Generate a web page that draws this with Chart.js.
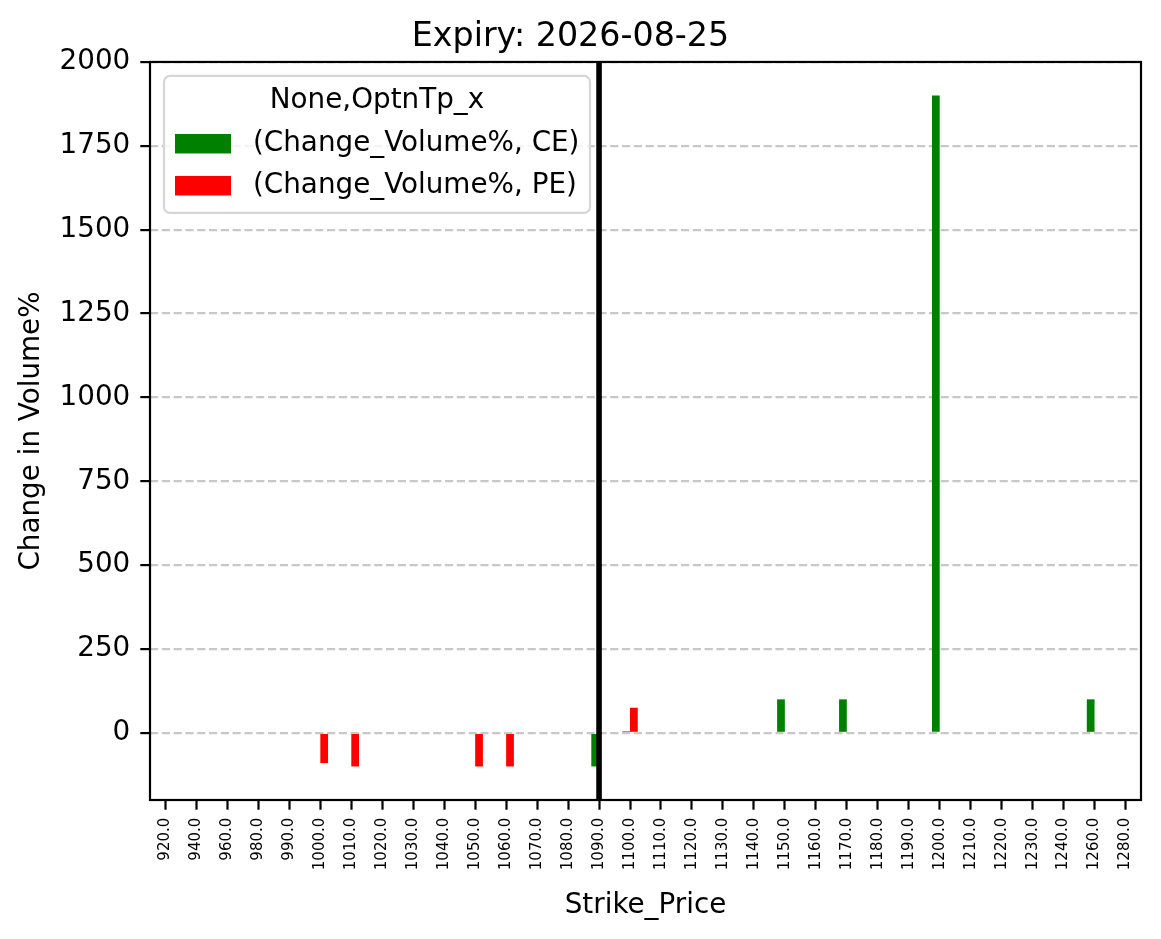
<!DOCTYPE html>
<html>
<head>
<meta charset="utf-8">
<script src="https://cdn.jsdelivr.net/npm/chart.js@4/dist/chart.umd.min.js"></script>
<style>
  body { margin: 0; background: #fff; }
  canvas { display: block; }
</style>
</head>
<body>
<canvas id="chart" width="1161" height="939"></canvas>
<script>
// strike prices shown on the x axis
const strikes = ['920.0', '940.0', '960.0', '980.0', '990.0', '1000.0', '1010.0', '1020.0',
    '1030.0', '1040.0', '1050.0', '1060.0', '1070.0', '1080.0', '1090.0', '1100.0',
    '1110.0', '1120.0', '1130.0', '1140.0', '1150.0', '1160.0', '1170.0', '1180.0',
    '1190.0', '1200.0', '1210.0', '1220.0', '1230.0', '1240.0', '1260.0', '1280.0'];

// change in volume %, null where there is no bar
const ceChange = [null, null, null, null, null, null, null, null,
    null, null, null, null, null, null, -100, 5,
    null, null, null, null, 100, null, 100, null,
    null, 1900, null, null, null, null, 100, null];
const peChange = [null, null, null, null, null, -90, -100, null,
    null, null, -100, -100, null, null, null, 75,
    null, null, null, null, null, null, null, null,
    null, null, null, null, null, null, null, null];

const yTicks = [0, 250, 500, 750, 1000, 1250, 1500, 1750, 2000];
const spotStrike = '1090.0';
const legendTitle = 'None,OptnTp_x';

const FONT = 'DejaVu Sans';

// vertical line at spot, frame and the in-axes legend
const extras = {
    id: 'extras',
    afterDatasetsDraw(chart) {
        const ctx = chart.ctx, area = chart.chartArea;
        const x = chart.scales.x.getPixelForValue(strikes.indexOf(spotStrike));
        ctx.save();
        ctx.strokeStyle = '#000';
        ctx.lineWidth = 5.6;
        ctx.beginPath();
        ctx.moveTo(x, area.top);
        ctx.lineTo(x, area.bottom);
        ctx.stroke();
        ctx.restore();
    },
    afterDraw(chart) {
        const ctx = chart.ctx, area = chart.chartArea;
        ctx.save();
        ctx.strokeStyle = '#000';
        ctx.lineWidth = 2.2;
        ctx.strokeRect(area.left, area.top, area.right - area.left, area.bottom - area.top);

        // legend box
        const bx = area.left + 14, by = area.top + 14, bw = 426, bh = 137;
        ctx.beginPath();
        ctx.roundRect(bx, by, bw, bh, 6);
        ctx.fillStyle = 'rgba(255,255,255,0.8)';
        ctx.fill();
        ctx.strokeStyle = '#d6d6d6';
        ctx.lineWidth = 2.2;
        ctx.stroke();

        ctx.fillStyle = '#000';
        ctx.font = '27.8px "' + FONT + '"';
        ctx.textBaseline = 'middle';
        ctx.textAlign = 'center';
        ctx.fillText(legendTitle, bx + bw / 2, by + 25);
        ctx.textAlign = 'left';
        chart.data.datasets.forEach((ds, i) => {
            const cy = by + 68 + i * 42;
            ctx.fillStyle = ds.backgroundColor;
            ctx.fillRect(bx + 11, cy - 10, 56, 19.5);
            ctx.fillStyle = '#000';
            ctx.fillText(ds.label, bx + 89, cy);
        });
        ctx.restore();
    }
};

new Chart(document.getElementById('chart'), {
    type: 'bar',
    data: {
        labels: strikes,
        datasets: [
            { label: '(Change_Volume%, CE)', data: ceChange, backgroundColor: '#008000' },
            { label: '(Change_Volume%, PE)', data: peChange, backgroundColor: '#ff0000' },
        ],
    },
    plugins: [extras],
    options: {
        responsive: false,
        animation: false,
        devicePixelRatio: 1,
        categoryPercentage: 0.5,
        barPercentage: 1.0,
        layout: { padding: { left: 0, right: 20, top: 0, bottom: 0 } },
        plugins: {
            legend: { display: false },
            tooltip: { enabled: false },
            title: {
                display: true,
                text: 'Expiry: 2026-08-25',
                color: '#000',
                font: { family: FONT, size: 33.3, weight: 'normal' },
                padding: { top: 17, bottom: 5 },
            },
        },
        scales: {
            x: {
                offset: true,
                afterFit(scale) { scale.height = 139; },
                grid: {
                    display: true,
                    offset: false,
                    drawOnChartArea: false,
                    tickLength: 9.7,
                    tickColor: '#000',
                    tickWidth: 2.2,
                },
                border: { display: false },
                ticks: {
                    autoSkip: false,
                    minRotation: 90,
                    maxRotation: 90,
                    padding: 8,
                    color: '#000',
                    font: { family: FONT, size: 15 },
                },
                title: {
                    display: true,
                    text: 'Strike_Price',
                    color: '#000',
                    font: { family: FONT, size: 27.8 },
                    padding: { top: 0, bottom: 17 },
                },
            },
            y: {
                min: -200,
                max: 2000,
                afterFit(scale) { scale.width = 150; },
                afterBuildTicks(scale) {
                    scale.ticks = yTicks.map(v => ({ value: v }));
                },
                grid: {
                    color: '#c8c8c8',
                    lineWidth: 2.2,
                    tickLength: 9.7,
                    tickColor: '#000',
                    tickWidth: 2.2,
                    tickBorderDash: [],
                },
                border: { display: false, dash: [8.2, 3.6] },
                ticks: {
                    padding: 10,
                    color: '#000',
                    font: { family: FONT, size: 27.8 },
                    callback: v => String(v),
                },
                title: {
                    display: true,
                    text: 'Change in Volume%',
                    color: '#000',
                    font: { family: FONT, size: 27.8 },
                    padding: { top: 15, bottom: 0 },
                },
            },
        },
    },
});
</script>
</body>
</html>
